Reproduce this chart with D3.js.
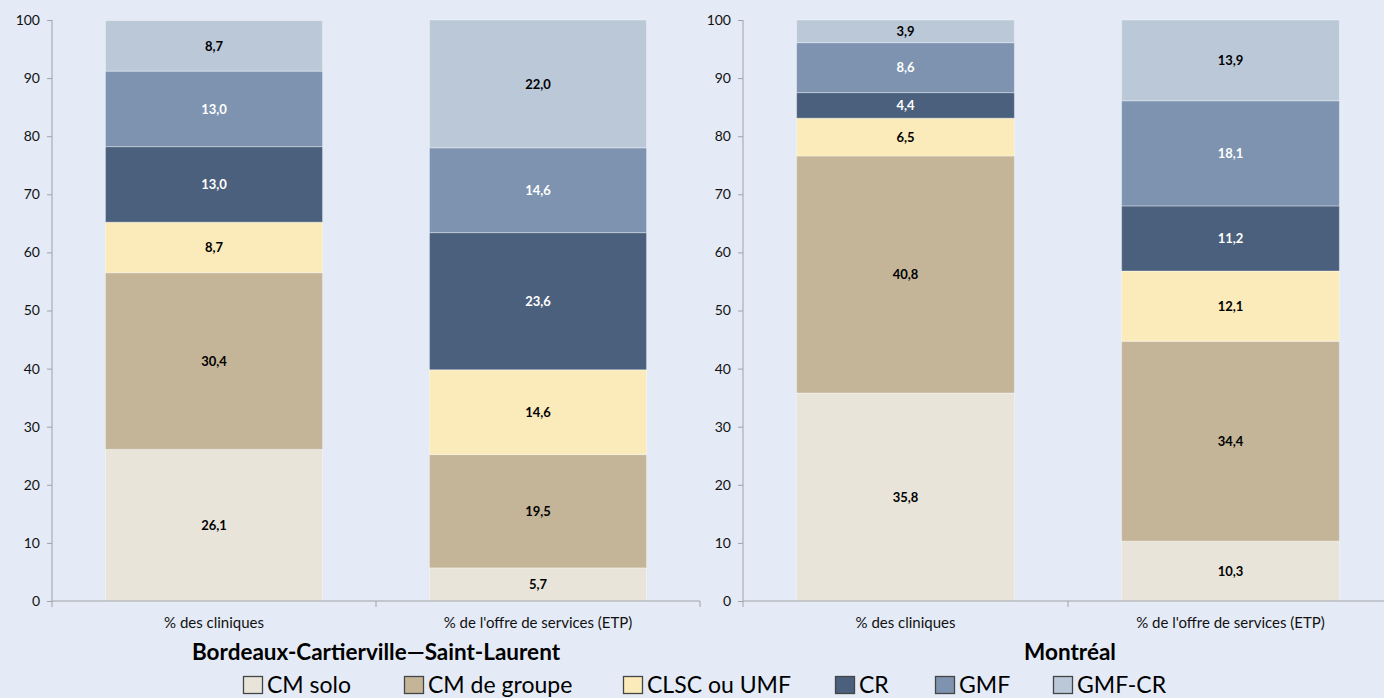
<!DOCTYPE html>
<html><head><meta charset="utf-8">
<script src="https://cdn.jsdelivr.net/npm/d3@7"></script>
<style>
html,body{margin:0;padding:0;background:#E4EBF6;}
svg{display:block;font-family:Lato,"Open Sans",sans-serif;}
</style></head>
<body>
<svg id="c" width="1384" height="698"></svg>
<script>
const categories = ["% des cliniques", "% de l'offre de services (ETP)"];
const seriesNames = ["CM solo", "CM de groupe", "CLSC ou UMF", "CR", "GMF", "GMF-CR"];
const seriesColors = ["#E8E4D9", "#C4B598", "#FBEBBB", "#4B607D", "#7D93B0", "#BAC8D8"];
const labelColors = ["#000", "#000", "#000", "#fff", "#fff", "#000"];
const panelTitles = ["Bordeaux-Cartierville\u2014Saint-Laurent", "Montréal"];
const bordeauxCliniques = [26.1, 30.4, 8.7, 13.0, 13.0, 8.7];
const bordeauxETP = [5.7, 19.5, 14.6, 23.6, 14.6, 22.0];
const montrealCliniques = [35.8, 40.8, 6.5, 4.4, 8.6, 3.9];
const montrealETP = [10.3, 34.4, 12.1, 11.2, 18.1, 13.9];
const yTicks = [0, 10, 20, 30, 40, 50, 60, 70, 80, 90, 100];

const panels = [[bordeauxCliniques, bordeauxETP], [montrealCliniques, montrealETP]];
const svg = d3.select("#c");
const fmt = v => v.toFixed(1).replace(".", ",");

const panelX = [[52, 700], [743, 1393]];
const y = d3.scaleLinear().domain([0, 100]).range([601, 20]);

panels.forEach((pdata, pi) => {
  const g = svg.append("g");
  const x = d3.scaleBand().domain(categories).range(panelX[pi]).paddingInner(0.33).paddingOuter(0.165);
  const xOuter = d3.scaleBand().domain(categories).range(panelX[pi]);
  categories.forEach((cat, ci) => {
    const vals = pdata[ci];
    const rows = seriesNames.map((s, si) => ({s, si, v: vals[si]}));
    let acc = 0;
    rows.forEach(r => { r.y0 = acc; acc += r.v; r.y1 = acc; });
    const bg = g.append("g");
    bg.selectAll("rect").data(rows).join("rect")
      .attr("x", x(cat)).attr("width", x.bandwidth())
      .attr("y", d => y(d.y1)).attr("height", d => y(d.y0) - y(d.y1))
      .attr("fill", d => seriesColors[d.si])
      .attr("stroke", "rgba(255,255,255,0.35)").attr("stroke-width", 1);
    bg.selectAll("text").data(rows).join("text")
      .attr("x", x(cat) + x.bandwidth() / 2)
      .attr("y", d => y((d.y0 + d.y1) / 2))
      .attr("dy", "0.36em").attr("text-anchor", "middle")
      .attr("font-size", 13).attr("font-weight", "bold")
      .attr("fill", d => labelColors[d.si])
      .text(d => fmt(d.v));
  });
  const ya = g.append("g").attr("transform", `translate(${panelX[pi][0]},0)`)
    .call(d3.axisLeft(y).tickValues(yTicks).tickSize(5).tickPadding(7).tickFormat(d3.format("d")));
  ya.select(".domain").attr("stroke", "#9FA3A8").attr("d", `M0,${y(100)}V${y(0)+6}`);
  ya.selectAll(".tick line").attr("stroke", "#9FA3A8");
  ya.selectAll(".tick text").attr("font-size", 14).attr("fill", "#111").attr("font-family", "Lato,sans-serif");
  const xa = g.append("g").attr("transform", `translate(0,${y(0)})`)
    .call(d3.axisBottom(xOuter).tickSize(0).tickPadding(16));
  xa.select(".domain").attr("stroke", "#9FA3A8").attr("d", `M${panelX[pi][0]},0H${panelX[pi][1]}`);
  xa.selectAll(".tick text").attr("font-size", 15).attr("fill", "#111").attr("font-family", "Lato,sans-serif");
  const bounds = [xOuter(categories[1]), panelX[pi][1]];
  g.selectAll(".sep").data(bounds).join("line").attr("class", "sep")
    .attr("x1", d => d).attr("x2", d => d).attr("y1", y(0)).attr("y2", y(0) + 6)
    .attr("stroke", "#9FA3A8");
  g.append("text").attr("x", (panelX[pi][0] + panelX[pi][1]) / 2 + (pi ? 2 : 0)).attr("y", 660)
    .attr("text-anchor", "middle").attr("font-size", 22.5).attr("font-weight", "bold")
    .attr("fill", "#000").text(panelTitles[pi]);
});

const legendX = [243, 404, 623, 835, 935, 1053];
const lg = svg.append("g");
seriesNames.forEach((s, i) => {
  lg.append("rect").attr("x", legendX[i] + 0.5).attr("y", 676.5).attr("width", 19).attr("height", 17)
    .attr("fill", seriesColors[i]).attr("stroke", "#454545").attr("stroke-width", 1.3);
  lg.append("text").attr("x", legendX[i] + 24).attr("y", 693).attr("font-size", 23)
    .attr("fill", "#000").text(s);
});
</script>
</body></html>
